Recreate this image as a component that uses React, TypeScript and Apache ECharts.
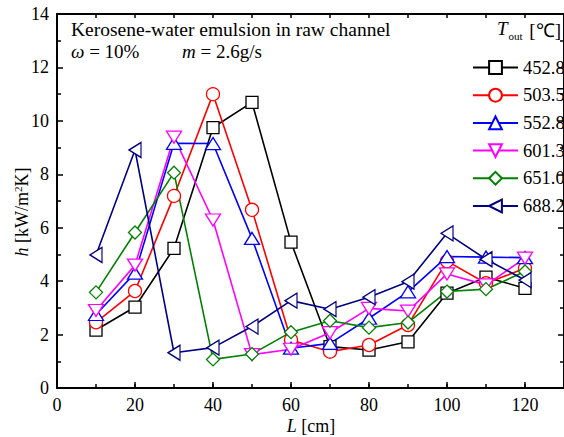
import React, { useEffect, useRef } from "react";
import * as echarts from "echarts";

const L = [10, 20, 30, 40, 50, 60, 70, 80, 90, 100, 110, 120];
const h452 = [2.17, 3.03, 5.23, 9.75, 10.69, 5.46, 1.55, 1.42, 1.73, 3.55, 4.15, 3.73];
const h503 = [2.46, 3.63, 7.19, 11.0, 6.67, 1.8, 1.36, 1.61, 2.36, 4.75, 3.92, 4.48];
const h552 = [2.75, 4.3, 9.16, 9.15, 5.6, 1.49, 1.67, 2.61, 3.6, 4.92, 4.9, 4.88];
const h601 = [2.9, 4.6, 9.39, 6.29, 1.25, 1.45, 2.07, 2.98, 2.88, 4.27, 3.86, 4.86];
const h651 = [3.58, 5.82, 8.06, 1.07, 1.27, 2.09, 2.52, 2.26, 2.45, 3.61, 3.7, 4.36];
const h688 = [4.98, 8.91, 1.32, 1.51, 2.3, 3.27, 2.95, 3.4, 3.98, 5.79, 4.82, 4.04];
const seriesNames = ["452.8", "503.5", "552.8", "601.3", "651.0", "688.2"];
const seriesValues = [h452, h503, h552, h601, h651, h688];

const colors = ["#000000", "#ff0000", "#0000ff", "#ff00ff", "#008000", "#000080"];
const symbols = ["rect", "circle", "triangle", "triangle", "diamond", "triangle"];
const rotates = [0, 0, 0, 180, 0, 90];
const sizes: any[] = [12, 13, [15, 12], [15, 12], 13, [15, 12]];

const FONT = '"Liberation Serif", "Times New Roman", serif';

export default function App() {
  const ref = useRef<HTMLDivElement>(null);
  useEffect(() => {
    if (!ref.current) return;
    const chart = echarts.init(ref.current, null, { renderer: "svg" });
    const black = { color: "#000", width: 1.5 };
    const xBase = { type: "value", min: 0, max: 130, gridIndex: 0, splitLine: { show: false } };
    const yBase = { type: "value", min: 0, max: 14, interval: 2, gridIndex: 0, splitLine: { show: false } };
    chart.setOption({
      animation: false,
      backgroundColor: "#fff",
      grid: { left: 57, top: 14, width: 509, height: 374, containLabel: false },
      xAxis: [
        {
          ...xBase,
          position: "bottom",
          interval: 20,
          axisLine: { show: true, onZero: false, lineStyle: { color: "#000", width: 2 } },
          axisTick: { show: true, inside: true, length: 6, lineStyle: black },
          axisLabel: { show: true, showMaxLabel: false, color: "#000", fontSize: 18, fontFamily: FONT, margin: 8 },
        },
        {
          ...xBase,
          position: "bottom",
          interval: 10,
          axisLine: { show: false, onZero: false },
          axisTick: { show: true, inside: true, length: 4, lineStyle: black },
          axisLabel: { show: false },
        },
        {
          ...xBase,
          position: "top",
          interval: 10,
          axisLine: { show: true, onZero: false, lineStyle: { color: "#000", width: 2 } },
          axisTick: { show: true, inside: true, length: 4, lineStyle: black },
          axisLabel: { show: false },
        },
      ],
      yAxis: [
        {
          ...yBase,
          position: "left",
          axisLine: { show: true, onZero: false, lineStyle: { color: "#000", width: 2 } },
          axisTick: { show: true, inside: true, length: 6, lineStyle: black },
          minorTick: { show: true, splitNumber: 2, length: 4, lineStyle: black },
          axisLabel: { show: true, color: "#000", fontSize: 18, fontFamily: FONT, margin: 8 },
        },
        {
          ...yBase,
          position: "right",
          axisLine: { show: true, onZero: false, lineStyle: { color: "#000", width: 2 } },
          axisTick: { show: true, inside: true, length: 6, lineStyle: black },
          minorTick: { show: true, splitNumber: 2, length: 4, lineStyle: black },
          axisLabel: { show: false },
        },
      ],
      legend: {
        orient: "vertical",
        left: 467,
        top: 53,
        itemWidth: 45,
        itemHeight: 16,
        itemGap: 8.7,
        data: seriesNames,
        textStyle: { color: "#000", fontSize: 18.5, fontFamily: FONT, lineHeight: 16 },
        inactiveColor: "#000",
      },
      series: seriesNames.map((name, k) => ({
        name,
        type: "line",
        xAxisIndex: 0,
        yAxisIndex: 0,
        data: L.map((x, i) => [x, seriesValues[k][i]]),
        symbol: symbols[k],
        symbolSize: sizes[k],
        symbolRotate: rotates[k],
        lineStyle: { color: colors[k], width: 1.6 },
        itemStyle: { color: "#ffffff", borderColor: colors[k], borderWidth: 1.3 },
        emphasis: { disabled: true },
      })),
      graphic: [
        {
          type: "text",
          left: 71,
          top: 19,
          style: { text: "Kerosene-water emulsion in raw channel", font: `19.5px ${FONT}`, fill: "#000" },
        },
        {
          type: "text",
          left: 71,
          top: 42,
          style: {
            text: "{i|ω} = 10%",
            fill: "#000",
            font: `19px ${FONT}`,
            rich: { i: { fontStyle: "italic", fontSize: 19, fontFamily: FONT } },
          },
        },
        {
          type: "text",
          left: 182,
          top: 42,
          style: {
            text: "{i|m} = 2.6g/s",
            fill: "#000",
            font: `19px ${FONT}`,
            rich: { i: { fontStyle: "italic", fontSize: 19, fontFamily: FONT } },
          },
        },
        {
          type: "text",
          left: 497,
          top: 19,
          style: {
            text: "{i|T}{s|out} [℃]",
            fill: "#000",
            font: `19px ${FONT}`,
            rich: {
              i: { fontStyle: "italic", fontSize: 19, fontFamily: FONT, verticalAlign: "top" },
              s: { fontSize: 11, fontFamily: FONT, verticalAlign: "bottom", padding: [11, 2, 0, 1] },
            },
          },
        },
        {
          type: "text",
          x: 22,
          y: 212,
          rotation: Math.PI / 2,
          style: {
            text: "{i|h} [kW/m{sup|2}K]",
            fill: "#000",
            font: `18px ${FONT}`,
            align: "center",
            verticalAlign: "middle",
            rich: {
              i: { fontStyle: "italic", fontSize: 18, fontFamily: FONT },
              sup: { fontSize: 11, fontFamily: FONT, verticalAlign: "top", padding: [0, 0, 9, 0] },
            },
          },
        },
        {
          type: "text",
          x: 311,
          y: 426,
          style: {
            text: "{i|L} [cm]",
            fill: "#000",
            font: `18px ${FONT}`,
            align: "center",
            verticalAlign: "middle",
            rich: { i: { fontStyle: "italic", fontSize: 18, fontFamily: FONT } },
          },
        },
      ],
    });
    return () => chart.dispose();
  }, []);
  return (
    <div
      ref={ref}
      style={{ position: "fixed", left: 0, top: 0, width: 564, height: 437, background: "#fff" }}
    />
  );
}
